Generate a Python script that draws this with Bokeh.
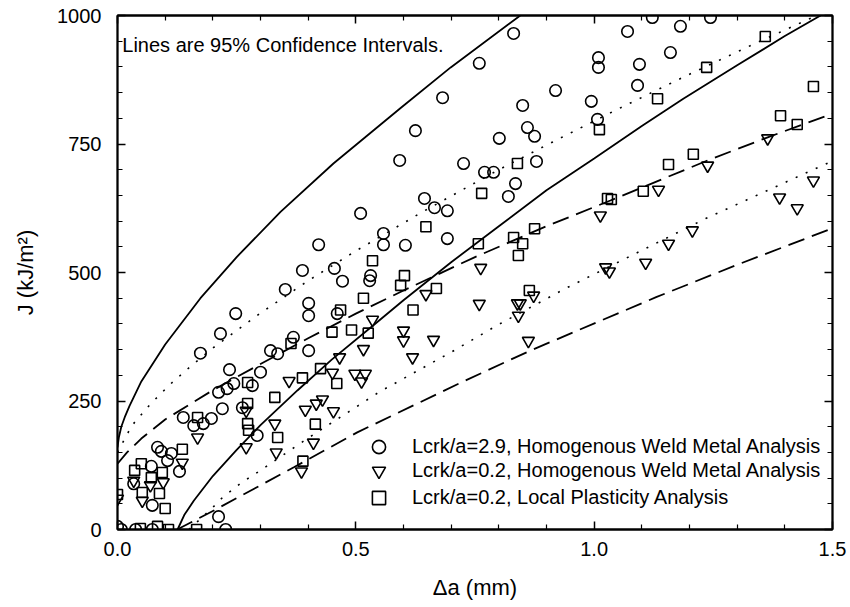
from bokeh.plotting import figure
from bokeh.models import (FixedTicker, LinearAxis, Range1d, Legend, LegendItem,
                          Label, CustomJSTickFormatter)
from bokeh.embed import file_html
from bokeh.resources import INLINE

# ---------------- data ----------------
# Lcrk/a=2.9, Homogenous Weld Metal Analysis (circles)
circ_x = [0.0, 0.008, 0.038, 0.073, 0.212, 0.227,
          0.084, 0.092, 0.113, 0.105, 0.071, 0.13, 0.034, 0.073,
          0.138, 0.16, 0.18, 0.197, 0.22, 0.212, 0.23, 0.244, 0.235, 0.3, 0.283, 0.262,
          0.293, 0.174, 0.216, 0.248, 0.321, 0.336, 0.369, 0.401, 0.401, 0.401, 0.461,
          0.352, 0.388, 0.422, 0.455, 0.472, 0.531, 0.529, 0.558, 0.558, 0.604, 0.692,
          0.51, 0.592, 0.625, 0.682, 0.759, 0.831, 0.644, 0.665, 0.692, 0.726, 0.77,
          0.789, 0.801, 0.82, 0.835, 0.85, 0.86, 0.875, 0.879, 0.919,
          0.994, 1.007, 1.009, 1.009, 1.07, 1.091, 1.095, 1.122, 1.16, 1.181, 1.244]
circ_y = [6, 0, 0, 0, 25, 0,
          160, 152, 148, 134, 123, 113, 89, 47,
          218, 202, 206, 216, 235, 267, 274, 284, 311, 306, 280, 237,
          183, 343, 381, 420, 348, 342, 374, 348, 416, 440, 420,
          467, 504, 554, 508, 483, 494, 484, 576, 554, 553, 566,
          615, 718, 776, 840, 907, 965, 644, 626, 620, 712, 695,
          695, 761, 648, 673, 825, 782, 765, 716, 854,
          833, 798, 918, 899, 969, 864, 905, 996, 928, 979, 996]

# Lcrk/a=0.2, Homogenous Weld Metal Analysis (triangles)
tri_x = [0.0, 0.034, 0.052, 0.069, 0.096, 0.136,
         0.168, 0.27, 0.27, 0.33, 0.333, 0.36, 0.394, 0.417, 0.43, 0.453, 0.411, 0.386,
         0.451, 0.466, 0.498, 0.512, 0.52, 0.516, 0.535, 0.6, 0.6, 0.619, 0.663, 0.647,
         0.762, 0.759, 0.839, 0.845, 0.841, 0.873, 0.862,
         1.013, 1.024, 1.032, 1.108, 1.156, 1.206, 1.135, 1.238, 1.364, 1.389, 1.426, 1.46]
tri_y = [60, 95, 56, 86, 92, 130,
         179, 231, 160, 206, 150, 289, 233, 245, 253, 230, 169, 113,
         305, 335, 303, 288, 303, 351, 408, 387, 368, 335, 369, 458,
         509, 439, 440, 440, 416, 455, 367,
         611, 510, 502, 519, 556, 582, 661, 708, 761, 646, 625, 679]

# Lcrk/a=0.2, Local Plasticity Analysis (squares)
sq_x = [0.0, 0.048, 0.084, 0.107, 0.166,
        0.05, 0.036, 0.094, 0.071, 0.052, 0.088, 0.1, 0.136,
        0.168, 0.273, 0.273, 0.273, 0.275, 0.364, 0.33, 0.388, 0.426, 0.45, 0.468, 0.46,
        0.491, 0.526, 0.415, 0.336, 0.62, 0.389,
        0.647, 0.535, 0.602, 0.594, 0.669, 0.516, 0.757, 0.764, 0.839, 0.831, 0.85, 0.841,
        0.875, 0.864,
        1.011, 1.028, 1.036, 1.103, 1.133, 1.156, 1.208, 1.236, 1.359, 1.391, 1.426, 1.46]
sq_y = [68, 2, 6, 0, 0,
        128, 115, 111, 101, 72, 70, 41, 156,
        218, 286, 245, 206, 193, 362, 257, 295, 313, 384, 427, 284,
        388, 382, 205, 179, 427, 133,
        589, 523, 494, 475, 469, 450, 556, 654, 712, 568, 556, 533,
        585, 465,
        778, 644, 642, 658, 838, 710, 730, 899, 959, 805, 788, 862]

# 95% confidence interval lines
solid_up_x = [0.0, 0.003, 0.008, 0.015, 0.025, 0.05, 0.1, 0.174, 0.25, 0.342, 0.453, 0.594, 0.699, 0.845]
solid_up_y = [160, 180, 200, 218, 240, 288, 360, 450, 530, 618, 712, 820, 899, 1000]
solid_lo_x = [0.126, 0.14, 0.16, 0.2, 0.25, 0.3, 0.378, 0.45, 0.535, 0.6, 0.7, 0.8, 0.9, 1.0, 1.1, 1.187, 1.3, 1.4, 1.475]
solid_lo_y = [0, 28, 56, 104, 155, 203, 271, 331, 396, 446, 520, 590, 660, 722, 785, 838, 903, 960, 1000]
dash_up_x = [0.0, 0.02, 0.05, 0.1, 0.2, 0.3, 0.4, 0.5, 0.6, 0.75, 0.9, 1.034, 1.238, 1.364, 1.5]
dash_up_y = [128, 150, 177, 214, 271, 322, 372, 420, 465, 530, 590, 640, 718, 763, 809]
dash_lo_x = [0.125, 0.19, 0.37, 0.503, 0.73, 0.866, 1.13, 1.3, 1.5]
dash_lo_y = [0, 31, 121, 189, 290, 348, 452, 515, 586]
dot_up_x = [0.0, 0.03, 0.07, 0.11, 0.153, 0.2, 0.3, 0.4, 0.5, 0.64, 0.8, 0.913, 1.05, 1.187, 1.32, 1.467]
dot_up_y = [150, 202, 245, 282, 317, 353, 421, 484, 542, 618, 700, 754, 818, 880, 938, 1000]
dot_lo_x = [0.15, 0.2, 0.22, 0.26, 0.3, 0.4, 0.55, 0.7, 0.8, 0.94, 1.1, 1.234, 1.303, 1.464, 1.5]
dot_lo_y = [0, 43, 62, 91, 115, 178, 268, 345, 399, 469, 543, 605, 634, 702, 717]

x_ticks = [0.0, 0.5, 1.0, 1.5]
x_tick_labels = ["0.0", "0.5", "1.0", "1.5"]
x_minor = [0.1, 0.2, 0.3, 0.4, 0.6, 0.7, 0.8, 0.9, 1.1, 1.2, 1.3, 1.4]
y_ticks = [0, 250, 500, 750, 1000]
y_tick_labels = ["0", "250", "500", "750", "1000"]
y_minor = [50, 100, 150, 200, 300, 350, 400, 450, 550, 600, 650, 700, 800, 850, 900, 950]

series_labels = ["Lcrk/a=2.9, Homogenous Weld Metal Analysis",
                 "Lcrk/a=0.2, Homogenous Weld Metal Analysis",
                 "Lcrk/a=0.2, Local Plasticity Analysis"]
note_text = "Lines are 95% Confidence Intervals."
x_title = "\u0394a (mm)"
y_title = "J (kJ/m\u00b2)"

FONT = "Liberation Sans"

# ---------------- figure ----------------
p = figure(width=850, height=607, x_range=Range1d(0, 1.5), y_range=Range1d(0, 1000),
           output_backend="svg", toolbar_location=None,
           min_border_left=117, min_border_right=18, min_border_top=15, min_border_bottom=78)
p.grid.visible = False
p.outline_line_color = "black"
p.outline_line_width = 1.8
p.background_fill_color = "white"
p.border_fill_color = "white"

def style_axis(ax, ticks, minor, labels=None):
    ax.ticker = FixedTicker(ticks=ticks, minor_ticks=minor)
    ax.major_tick_in = 8
    ax.major_tick_out = 0
    ax.minor_tick_in = 5
    ax.minor_tick_out = 0
    ax.major_tick_line_width = 1.5
    ax.minor_tick_line_width = 1.2
    ax.major_tick_line_color = "black"
    ax.minor_tick_line_color = "black"
    ax.axis_line_width = 1.8
    ax.axis_line_color = "black"
    if labels is None:
        ax.formatter = CustomJSTickFormatter(code="return ''")
        ax.major_label_standoff = 0
    else:
        ax.major_label_overrides = {t: l for t, l in zip(ticks, labels)}
        ax.major_label_text_font = FONT
        ax.major_label_text_font_size = "20px"
        ax.major_label_text_color = "black"
        ax.axis_label_text_font = FONT
        ax.axis_label_text_font_size = "22px"
        ax.axis_label_text_font_style = "normal"
        ax.axis_label_text_color = "black"

xa = p.xaxis[0]
style_axis(xa, x_ticks, x_minor, x_tick_labels)
xa.axis_label = x_title
xa.major_label_standoff = 12
xa.axis_label_standoff = 16

ya = p.yaxis[0]
style_axis(ya, y_ticks, y_minor, y_tick_labels)
ya.axis_label = y_title
ya.major_label_standoff = 16
ya.axis_label_standoff = 16

top = LinearAxis()
style_axis(top, x_ticks, x_minor)
p.add_layout(top, "above")
right = LinearAxis()
style_axis(right, y_ticks, y_minor)
p.add_layout(right, "right")

# confidence lines
lw = 1.8
p.line(solid_up_x, solid_up_y, line_color="black", line_width=lw)
p.line(solid_lo_x, solid_lo_y, line_color="black", line_width=lw)
p.line(dash_up_x, dash_up_y, line_color="black", line_width=lw, line_dash="17 8")
p.line(dash_lo_x, dash_lo_y, line_color="black", line_width=lw, line_dash="17 8")
p.line(dot_up_x, dot_up_y, line_color="black", line_width=1.6, line_dash="2 9")
p.line(dot_lo_x, dot_lo_y, line_color="black", line_width=1.6, line_dash="2 9")

# data points
r_c = p.scatter(circ_x, circ_y, marker="circle", size=11.5, fill_color=None,
                line_color="black", line_width=1.6)
r_t = p.scatter(tri_x, tri_y, marker="inverted_triangle", size=12, fill_color=None,
                line_color="black", line_width=1.6)
r_s = p.scatter(sq_x, sq_y, marker="square", size=10, fill_color=None,
                line_color="black", line_width=1.6)

# legend: one entry per row so the rows can sit 25 px apart with full-size keys
legend_rows = [(r_c, 66), (r_t, 42), (r_s, 15)]
for (rend, bottom), lab in zip(legend_rows, series_labels):
    lg = Legend(items=[LegendItem(label=lab, renderers=[rend])],
                location=(245, bottom), glyph_width=33, glyph_height=33,
                label_standoff=17, padding=0, margin=0, spacing=0,
                border_line_color=None, background_fill_alpha=0,
                label_text_font=FONT, label_text_font_size="20px",
                label_text_color="black", label_height=20)
    p.add_layout(lg)

note = Label(x=0.01, y=942, text=note_text, text_font=FONT, text_font_size="20px",
             text_baseline="middle", text_align="left", text_color="black")
p.add_layout(note)

open("out.html", "w").write(file_html(p, INLINE))
